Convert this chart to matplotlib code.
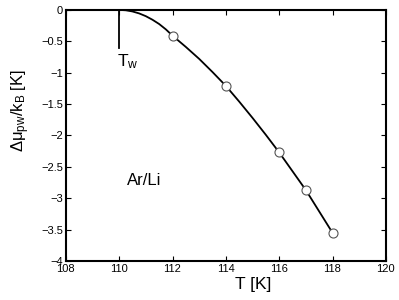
import matplotlib
matplotlib.use('Agg')
import matplotlib.pyplot as plt
from matplotlib.ticker import FuncFormatter, MultipleLocator

plt.rcParams['font.family'] = ['Liberation Sans', 'DejaVu Sans']
plt.rcParams['mathtext.fontset'] = 'custom'
plt.rcParams['mathtext.rm'] = 'Liberation Sans'
plt.rcParams['mathtext.it'] = 'Liberation Sans'

# fitted curve
curve_T = [110, 110.25, 110.5, 110.75, 111, 111.25, 111.5, 111.75, 112, 112.25, 112.5,
           112.75, 113, 113.5, 114, 114.5, 115, 115.5, 116, 117, 118]
curve_mu = [0, -0.006, -0.025, -0.056, -0.10, -0.157, -0.225, -0.31, -0.41, -0.50, -0.59,
            -0.685, -0.78, -0.99, -1.21, -1.46, -1.72, -1.99, -2.27, -2.87, -3.55]

# simulation points
pts_T = [112, 114, 116, 117, 118]
pts_mu = [-0.42, -1.21, -2.27, -2.87, -3.55]

T_w = 110

fig = plt.figure(figsize=(3.99, 3.0), dpi=100)
ax = fig.add_axes([0.165, 0.13, 0.802, 0.837])

ax.plot(curve_T, curve_mu, color='k', lw=1.3, zorder=2)
ax.plot(pts_T, pts_mu, 'o', ms=6.5, mfc='white', mec='#555555', mew=0.8, zorder=3)

# wetting temperature marker
ax.plot((T_w, T_w), (0, -0.6), color='k', lw=1.3)
ax.text(T_w - 0.08, -0.68, r'T$_{\rm w}$', fontsize=12.5, ha='left', va='top')
ax.text(110.3, -2.72, 'Ar/Li', fontsize=12, ha='left', va='center')

ax.set_xlim(108, 120)
ax.set_ylim(-4, 0)
ax.xaxis.set_major_locator(MultipleLocator(2))
ax.yaxis.set_major_locator(MultipleLocator(0.5))
fmt = FuncFormatter(lambda v, p: ('%g' % v).replace('-', '\u2212'))
ax.xaxis.set_major_formatter(fmt)
ax.yaxis.set_major_formatter(fmt)
ax.tick_params(direction='in', top=True, right=True, length=3.5, width=0.8,
               labelsize=8, pad=2)
for s in ax.spines.values():
    s.set_linewidth(1.5)

ax.set_xlabel('T [K]', fontsize=12.5)
ax.set_ylabel(r'$\Delta\mu_{\rm pw}$/k$_{\rm B}$ [K]', fontsize=12)
ax.xaxis.set_label_coords(0.584, -0.065)
ax.yaxis.set_label_coords(-0.105, 0.60)

fig.savefig('out.png', dpi=100)
